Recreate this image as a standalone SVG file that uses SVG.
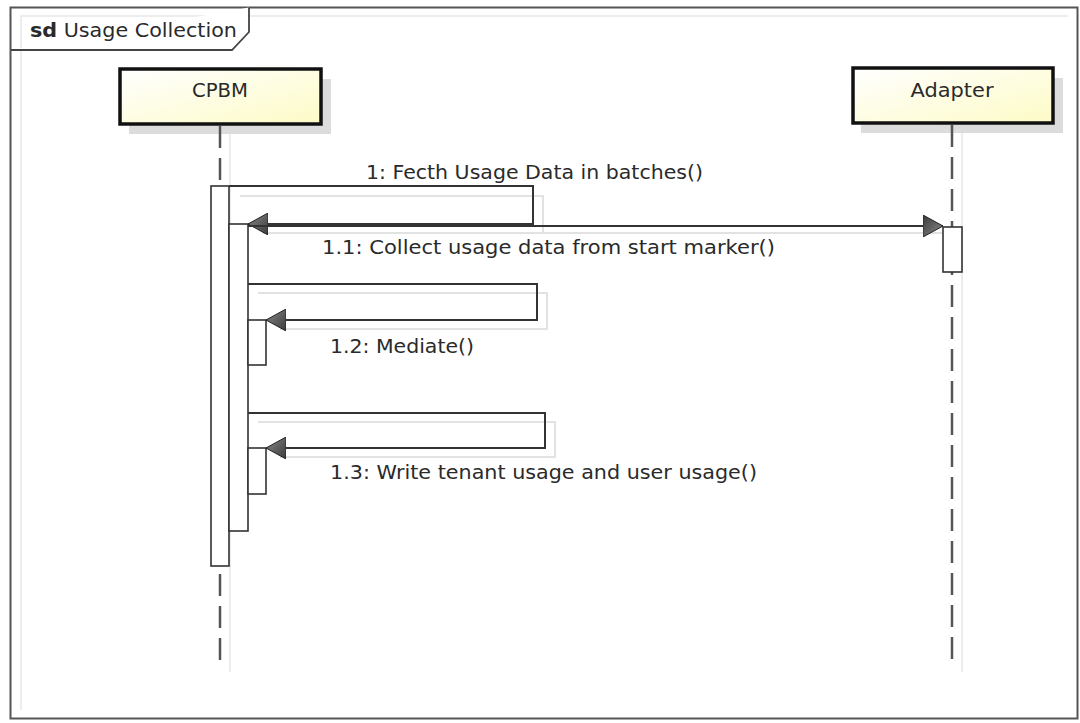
<svg xmlns="http://www.w3.org/2000/svg" width="1080" height="723" viewBox="0 0 1080 723">
<style>
  .lbl{font-family:"DejaVu Sans","Liberation Sans",sans-serif;font-size:19px;fill:#2a2a2a}
  .box{stroke:#111;stroke-width:3.5;fill:url(#yel)}
  .shadowbox{fill:#dcdcdc}
  .life{stroke:#555;stroke-width:2.5;stroke-dasharray:22 10;fill:none}
  .lifesh{stroke:#ececec;stroke-width:2;fill:none}
  .act{fill:#fff;stroke:#333;stroke-width:1.6}
  .msg{fill:none;stroke:#333;stroke-width:2}
  .msgsh{fill:none;stroke:#e2e2e2;stroke-width:2}
</style>
<defs>
  <linearGradient id="yel" x1="0" y1="0" x2="1" y2="1">
    <stop offset="0" stop-color="#ffffff"/>
    <stop offset="1" stop-color="#fdfbc6"/>
  </linearGradient>
  <linearGradient id="ah" x1="0" y1="0" x2="1" y2="1">
    <stop offset="0" stop-color="#3a3a3a"/>
    <stop offset="1" stop-color="#8a8a8a"/>
  </linearGradient>
  <marker id="arr" viewBox="0 0 20 22" refX="20" refY="11" markerWidth="20" markerHeight="22" markerUnits="userSpaceOnUse" orient="auto">
    <path d="M0,0 L20,11 L0,22 Z" fill="url(#ah)" stroke="#222" stroke-width="1"/>
  </marker>
</defs>
<rect x="0" y="0" width="1080" height="723" fill="#fff"/>

<g id="frame">
  <path d="M21,710 V16 H1068" fill="none" stroke="#e8e8e8" stroke-width="1.5"/>
  <rect x="10.5" y="7.5" width="1067" height="711" fill="none" stroke="#555" stroke-width="2"/>
  <path d="M11,50 H232 L249,32 V7.5" fill="#fff" stroke="#444" stroke-width="1.8"/>
  <text x="30" y="37" class="lbl" textLength="207" lengthAdjust="spacingAndGlyphs"><tspan font-weight="bold">sd</tspan> Usage Collection</text>
</g>

<g id="lifeline-shadows">
  <line x1="230" y1="133" x2="230" y2="672" class="lifesh"/>
  <line x1="962" y1="132" x2="962" y2="672" class="lifesh"/>
</g>

<g id="CPBM">
  <rect x="129" y="79" width="202" height="55" class="shadowbox"/>
  <rect x="120" y="69" width="201" height="55" class="box"/>
  <text x="220" y="97" text-anchor="middle" class="lbl" textLength="56" lengthAdjust="spacingAndGlyphs">CPBM</text>
  <line x1="220" y1="126" x2="220" y2="666" class="life"/>
</g>

<g id="Adapter">
  <rect x="861" y="78" width="202" height="55" class="shadowbox"/>
  <rect x="853" y="68" width="200" height="55" class="box"/>
  <text x="952" y="97" text-anchor="middle" class="lbl" textLength="83" lengthAdjust="spacingAndGlyphs">Adapter</text>
  <line x1="952" y1="125" x2="952" y2="666" class="life"/>
</g>

<g id="connector-shadows">
  <path d="M240,196 H543 V232" class="msgsh"/>
  <path d="M262,233 H948" class="msgsh"/>
  <path d="M258,293 H547 V329 H280" class="msgsh"/>
  <path d="M258,422 H555 V457 H280" class="msgsh"/>
</g>

<g id="activations">
  <rect x="211" y="186" width="18" height="380" class="act"/>
  <rect x="229" y="224" width="19" height="307" class="act"/>
  <rect x="248" y="320" width="18" height="45" class="act"/>
  <rect x="248" y="448" width="18" height="46" class="act"/>
  <rect x="943" y="227" width="19" height="45" class="act"/>
</g>

<g id="connectors">
  <path d="M229,186 H533 V224 H248" class="msg" marker-end="url(#arr)"/>
  <path d="M248,226 H943" class="msg" marker-end="url(#arr)"/>
  <path d="M248,284 H537 V320 H266" class="msg" marker-end="url(#arr)"/>
  <path d="M248,413 H545 V448 H266" class="msg" marker-end="url(#arr)"/>
</g>

<g id="labels">
  <text x="366" y="179" class="lbl" textLength="337" lengthAdjust="spacingAndGlyphs">1: Fecth Usage Data in batches()</text>
  <text x="322" y="254" class="lbl" textLength="453" lengthAdjust="spacingAndGlyphs">1.1: Collect usage data from start marker()</text>
  <text x="330" y="353" class="lbl" textLength="144" lengthAdjust="spacingAndGlyphs">1.2: Mediate()</text>
  <text x="330" y="479" class="lbl" textLength="427" lengthAdjust="spacingAndGlyphs">1.3: Write tenant usage and user usage()</text>
</g>
</svg>
